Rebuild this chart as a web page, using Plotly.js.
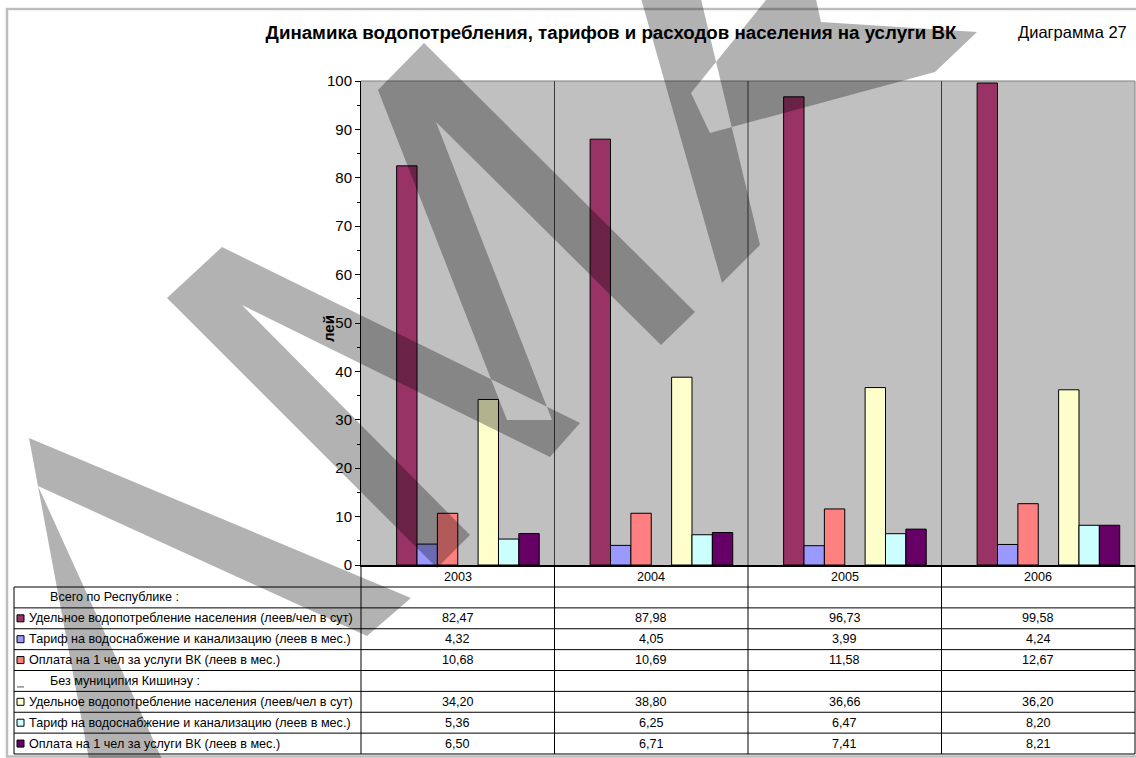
<!DOCTYPE html>
<html><head><meta charset="utf-8">
<script src="https://cdn.plot.ly/plotly-3.0.1.min.js"></script>
<style>html,body{margin:0;padding:0;background:#fff;}</style>
</head><body><div id="chart" style="width:1136px;height:758px;"></div>
<script>
// ---------- DATA ----------
const years = ['2003', '2004', '2005', '2006'];
const seriesNames = [
  'Всего по Республике :',
  'Удельное водопотребление населения (леев/чел в сут)',
  'Тариф на водоснабжение и канализацию (леев в мес.)',
  'Оплата на 1 чел за услуги ВК (леев в мес.)',
  'Без муниципия Кишинэу :',
  'Удельное водопотребление населения (леев/чел в сут)',
  'Тариф на водоснабжение и канализацию (леев в мес.)',
  'Оплата на 1 чел за услуги ВК (леев в мес.)'
];
const repConsumption = [82.47, 87.98, 96.73, 99.58];
const repTariff      = [4.32, 4.05, 3.99, 4.24];
const repPayment     = [10.68, 10.69, 11.58, 12.67];
const excConsumption = [34.20, 38.80, 36.66, 36.20];
const excTariff      = [5.36, 6.25, 6.47, 8.20];
const excPayment     = [6.50, 6.71, 7.41, 8.21];
const seriesValues = [null, repConsumption, repTariff, repPayment, null, excConsumption, excTariff, excPayment];
const yTickVals = [0, 10, 20, 30, 40, 50, 60, 70, 80, 90, 100];

// ---------- STYLE ----------
const seriesColors = [null, '#993366', '#9999FF', '#FF8080', null, '#FFFFCC', '#CCFFFF', '#660066'];
const FONT = 'Arial, "Liberation Sans", sans-serif';
const W = 1136, H = 758, L = 361, R = 1135, T = 81, B = 565;
const px2x = px => (px - L) / (R - L);
const py2y = py => (B - py) / (B - T);
const colCenter = j => (j + 0.5) / years.length;   // paper x of a category centre
const tableTop = 587, rowH = 20.875, tableLeft = 14, tableBottom = tableTop + 8 * rowH;
const TXT = 12.6;

// ---------- TRACES ----------
const nSlots = seriesValues.length, gapSlots = 1.5, slot = 1 / (nSlots + gapSlots);
const traces = [];
seriesValues.forEach((vals, i) => {
  if (!vals) return;
  traces.push({
    type: 'bar', x: years, y: vals, name: seriesNames[i],
    width: slot, offset: -0.5 + (gapSlots / 2) * slot + i * slot,
    marker: {color: seriesColors[i], line: {color: '#000', width: 1}},
    showlegend: false, hoverinfo: 'y'
  });
});

// ---------- TABLE ----------
const shapes = [];
const annotations = [];
const line = (x0, y0, x1, y1, color, width) => shapes.push({
  type: 'line', xref: 'paper', yref: 'paper', layer: 'above',
  x0: px2x(x0), x1: px2x(x1), y0: py2y(y0), y1: py2y(y1),
  line: {color: color, width: width}
});
// outer chart border
shapes.push({type: 'rect', xref: 'paper', yref: 'paper', layer: 'below',
  x0: px2x(7), x1: px2x(1142), y0: py2y(9), y1: py2y(756.5),
  line: {color: '#BEBEBE', width: 2.5}, fillcolor: 'rgba(0,0,0,0)'});
// plot top & right border
line(L, T, R, T, '#808080', 1);
line(R, T, R, B, '#808080', 1);
// category dividers
for (let j = 1; j < years.length; j++) {
  const xp = L + (R - L) * j / years.length;
  line(xp, T, xp, B, '#3a3a3a', 1);
  line(xp, B, xp, tableBottom, '#000', 1);
}
// table borders
line(L, B, L, tableBottom, '#000', 1);
line(R, B, R, tableBottom, '#000', 1);
line(tableLeft, tableTop, tableLeft, tableBottom, '#000', 1);
for (let k = 0; k <= seriesNames.length; k++) {
  const y = tableTop + k * rowH;
  line(tableLeft, y, R, y, '#000', 1);
}
// year labels
years.forEach((yr, j) => annotations.push({
  xref: 'paper', yref: 'paper', x: colCenter(j), y: py2y((B + tableTop) / 2 + 1),
  text: yr, showarrow: false, xanchor: 'center', yanchor: 'middle',
  font: {family: FONT, size: TXT, color: '#000'}
}));
// rows
seriesNames.forEach((name, i) => {
  const yc = tableTop + i * rowH + rowH / 2;
  const vals = seriesValues[i];
  if (vals) {
    shapes.push({type: 'rect', xref: 'paper', yref: 'paper', layer: 'above',
      x0: px2x(17), x1: px2x(24), y0: py2y(yc - 3.5), y1: py2y(yc + 3.5),
      fillcolor: seriesColors[i], line: {color: '#000', width: 1}});
    annotations.push({xref: 'paper', yref: 'paper', x: px2x(27), y: py2y(yc),
      text: name, showarrow: false, xanchor: 'left', yanchor: 'middle',
      font: {family: FONT, size: TXT, color: '#000'}});
    vals.forEach((v, j) => annotations.push({
      xref: 'paper', yref: 'paper', x: colCenter(j), y: py2y(yc),
      text: v.toFixed(2).replace('.', ','), showarrow: false,
      xanchor: 'center', yanchor: 'middle',
      font: {family: FONT, size: TXT, color: '#000'}
    }));
  } else {
    if (i > 0) line(17, yc + 6, 24, yc + 6, '#555', 1);
    annotations.push({xref: 'paper', yref: 'paper', x: px2x(48), y: py2y(yc),
      text: name, showarrow: false, xanchor: 'left', yanchor: 'middle',
      font: {family: FONT, size: TXT, color: '#000'}});
  }
});
// y axis title and chart label
annotations.push({xref: 'paper', yref: 'paper', x: px2x(328), y: py2y(329),
  text: '<b>лей</b>', textangle: -90, showarrow: false, xanchor: 'center', yanchor: 'middle',
  font: {family: FONT, size: 15, color: '#000'}});
annotations.push({xref: 'paper', yref: 'paper', x: px2x(1129), y: py2y(32),
  text: 'Диаграмма 27', showarrow: false, xanchor: 'right', yanchor: 'middle',
  font: {family: FONT, size: 16.5, color: '#000'}});

// ---------- WATERMARK (decorative) ----------
const wmPolys = [
  [[29,438],[411,598],[367,636],[38,486],[167,770],[91,770]],
  [[222,247],[580,423],[550,457],[242,305],[470,535],[437,568],[167,298]],
  [[378,90],[424,43],[695,312],[661,345],[436,122],[552,420],[507,420]],
  [[640,-5],[700,-5],[760,245],[722,283]],
  [[691,93],[770,-5],[815,-5],[821,22],[977,32],[935,72],[710,133]]
];
let wmPath = '';
wmPolys.forEach(poly => {
  let a = 0;
  for (let i = 0; i < poly.length; i++) {
    const p = poly[i], q = poly[(i + 1) % poly.length];
    a += p[0] * q[1] - q[0] * p[1];
  }
  const pts = a < 0 ? poly.slice().reverse() : poly;
  wmPath += pts.map((p, i) => (i ? 'L' : 'M') + px2x(p[0]).toFixed(5) + ',' + py2y(p[1]).toFixed(5)).join(' ') + ' Z ';
});
shapes.push({type: 'path', xref: 'paper', yref: 'paper', layer: 'above', path: wmPath,
  fillcolor: 'rgba(0,0,0,0.3)', line: {width: 0}});

// ---------- LAYOUT ----------
const layout = {
  width: W, height: H,
  margin: {l: L, r: W - R, t: T, b: H - B, pad: 0},
  paper_bgcolor: '#FFFFFF', plot_bgcolor: '#C0C0C0',
  barmode: 'overlay',
  title: {text: '<b>Динамика водопотребления, тарифов и расходов населения на услуги ВК</b>',
    font: {family: FONT, size: 18.7, color: '#000'},
    xref: 'container', yref: 'container', x: 611 / W, xanchor: 'center', y: 1 - 32 / H, yanchor: 'middle'},
  xaxis: {type: 'category', range: [-0.5, years.length - 0.5], showticklabels: false, ticks: '',
    showline: true, linecolor: '#000', linewidth: 2, showgrid: false, zeroline: false, fixedrange: true},
  yaxis: {range: [0, 100], tickvals: yTickVals, ticks: 'outside', ticklen: 5, tickwidth: 1, tickcolor: '#000',
    showline: true, linecolor: '#000', linewidth: 1, showgrid: false, zeroline: false,
    tickfont: {family: FONT, size: 15, color: '#000'},
    minor: {dtick: 5, ticks: 'outside', ticklen: 3, tickwidth: 1, tickcolor: '#000', showgrid: false},
    fixedrange: true},
  shapes: shapes,
  annotations: annotations
};
Plotly.newPlot('chart', traces, layout, {displayModeBar: false, staticPlot: true});
</script>
</body></html>
